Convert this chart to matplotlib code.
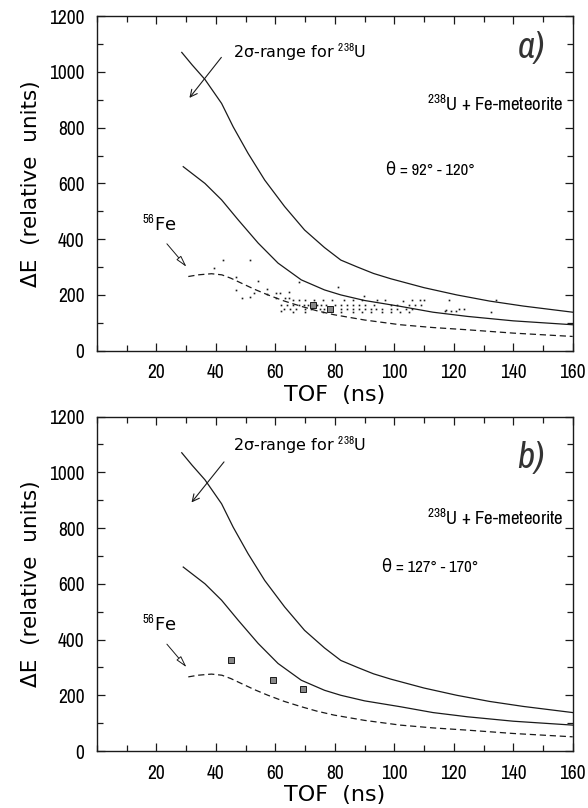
import matplotlib
matplotlib.use('Agg')
import matplotlib.pyplot as plt
from matplotlib import font_manager
from matplotlib.ticker import MultipleLocator, FixedLocator

# the scan mixes a narrow face (numbers, labels) with a wider one (axis titles)
narrow = None
for f in font_manager.fontManager.ttflist:
    if 'Narrow' in f.name or 'Condensed' in f.name:
        narrow = f.name
        break
base = narrow if narrow else 'Liberation Sans'
plt.rcParams['font.family'] = [base, 'DejaVu Sans']
plt.rcParams['mathtext.fontset'] = 'custom'
plt.rcParams['mathtext.rm'] = base
wide = ['DejaVu Sans']

# 2-sigma range for 238U (upper / lower solid curves)
upper_x = [28.5, 32, 36.3, 41.9, 45.8, 50.8, 56.4, 63.1, 69.8, 76.5, 82, 87.6, 93, 98.8, 110, 121, 132, 143.4, 160]
upper_y = [1070, 1025, 973, 887, 803, 708, 612, 517, 433, 370, 325, 300, 277, 258, 226, 200, 178, 160, 138]
lower_x = [29, 36.3, 41.9, 47.5, 54.2, 60.9, 68.7, 76.5, 82, 90, 102, 113, 124.5, 140, 160]
lower_y = [660, 600, 541, 469, 386, 314, 254, 218, 200, 180, 159, 138, 123, 107, 93]

# 56Fe (dashed)
fe_x = [30.7, 34, 38.5, 42, 45, 48.6, 53, 57.5, 63, 68.7, 74, 79.7, 90, 102, 113, 124.5, 140, 160]
fe_y = [266, 272, 276, 272, 260, 242, 220, 200, 178, 159, 143, 129, 110, 93, 83, 75, 63, 51]

# panel a events (theta = 92 - 120 deg)
a_x = [42.4, 51.3, 39.4, 46.9, 54.1, 67.8, 46.9, 52.8, 57.3, 48.6, 51.3, 57.3, 60.3, 61.6, 64.7,
       60.3, 63.1, 64.7, 62, 62, 80.9, 89.9, 103, 108.8, 110, 118.3, 134.3, 132.5, 117.2, 118.9,
       120.6, 121.9, 123.3, 117.5, 94.3, 98.8,
       66, 68, 70, 73, 76, 79, 83, 86, 89, 97, 106,
       64, 66, 68, 69.5, 71, 74, 75.5, 77, 80, 82, 84, 86, 88, 90, 93, 101, 105, 107, 109,
       63, 65, 67, 70, 72, 75, 76.5, 82, 84, 86, 88, 90, 92, 94, 96, 99, 101, 104, 106,
       66, 70, 76, 82, 86, 89, 92, 96, 99, 102, 105]
a_y = [326, 326, 295, 264, 251, 248, 218, 207, 221, 189, 191, 203, 207, 207, 209,
       189, 189, 189, 165, 143, 228, 195, 177, 183, 183, 183, 183, 137, 143, 141,
       141, 149, 149, 147, 183, 165,
       183, 183, 183, 183, 183, 183, 183, 183, 183, 183, 183,
       165, 165, 165, 165, 165, 165, 165, 165, 165, 165, 165, 165, 165, 165, 165, 165, 165, 165, 165,
       150, 150, 150, 150, 150, 150, 150, 150, 150, 150, 150, 150, 150, 150, 150, 150, 150, 150, 150,
       138, 138, 138, 138, 138, 138, 138, 138, 138, 138, 138]
a_box_x = [72.6, 78.5]
a_box_y = [165, 148]

# panel b events (theta = 127 - 170 deg)
b_x = [45, 59.2, 69.3]
b_y = [326, 254, 224]

panels = [
    dict(rect=[0.165, 0.566, 0.809, 0.414], tag='a)', tag_y=1089, theta='θ = 92° - 120°',
         theta_y=648, react_y=888, sig_y=1071, sig_arrow=((42.4, 1060), (30.5, 899))),
    dict(rect=[0.165, 0.0705, 0.809, 0.414], tag='b)', tag_y=1053, theta='θ = 127° - 170°',
         theta_y=660, react_y=839, sig_y=1096, sig_arrow=((43.3, 1045), (31.2, 884))),
]

fig = plt.figure(figsize=(5.88, 8.08), dpi=100)
ink = '#1a1a1a'

for i, p in enumerate(panels):
    ax = fig.add_axes(p['rect'])
    ax.plot(upper_x, upper_y, color=ink, lw=0.9)
    ax.plot(lower_x, lower_y, color=ink, lw=0.9)
    ax.plot(fe_x, fe_y, color=ink, lw=0.9, ls=(0, (5, 3)))

    if i == 0:
        ax.plot(a_x, a_y, ls='none', marker='s', ms=1.2, color=ink, mew=0)
        ax.plot(a_box_x, a_box_y, ls='none', marker='s', ms=4, mfc='#888888', mec=ink, mew=0.7)
    else:
        ax.plot(b_x, b_y, ls='none', marker='s', ms=4, mfc='#888888', mec=ink, mew=0.7)

    ax.set_xlim(0, 160)
    ax.set_ylim(0, 1200)
    ax.xaxis.set_major_locator(FixedLocator([20, 40, 60, 80, 100, 120, 140, 160]))
    ax.xaxis.set_minor_locator(MultipleLocator(10))
    ax.yaxis.set_major_locator(MultipleLocator(200))
    ax.yaxis.set_minor_locator(MultipleLocator(100))
    ax.tick_params(which='both', direction='in', top=True, right=True, width=0.9, color=ink)
    ax.tick_params(which='major', length=6, labelsize=14, pad=9)
    ax.tick_params(which='minor', length=4)
    for s in ax.spines.values():
        s.set_linewidth(1.0)
        s.set_color(ink)

    ax.set_xlabel('TOF  (ns)', fontsize=16, labelpad=2, family=wide)
    ax.set_ylabel('ΔE  (relative  units)', fontsize=15.5, labelpad=6, family=wide)

    # annotations
    ax.text(45.8, p['sig_y'], r'2σ-range for $^{238}$U', fontsize=11.5, va='center', ha='left',
            family=wide)
    (x0, y0), (x1, y1) = p['sig_arrow']
    ax.annotate('', xy=(x1, y1), xytext=(x0, y0),
                arrowprops=dict(arrowstyle='->,head_length=0.5,head_width=0.25', color=ink, lw=0.8))
    ax.text(15, 451, r'$^{56}$Fe', fontsize=13, va='center', ha='left', family=wide)
    ax.annotate('', xy=(30.7, 293), xytext=(22.9, 391),
                arrowprops=dict(arrowstyle='-|>,head_length=0.7,head_width=0.18',
                                fc='white', ec=ink, lw=0.7))
    ax.text(134, p['react_y'], r'$^{238}$U + Fe-meteorite', fontsize=13.5, ha='center', va='center')
    ax.text(112, p['theta_y'], p['theta'], fontsize=12, ha='center', va='center')
    ax.text(146, p['tag_y'], p['tag'], fontsize=27, style='italic',
            ha='center', va='center', color='#333333')

fig.savefig('out.png', dpi=100)
